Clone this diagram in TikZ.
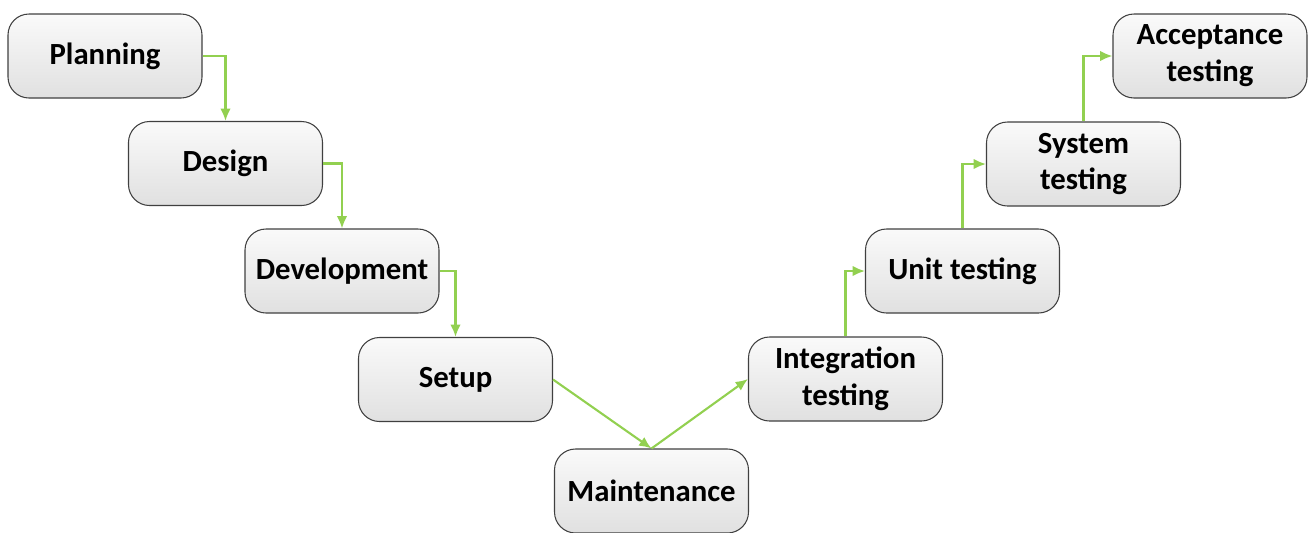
\documentclass[tikz,border=0pt]{standalone}
\usepackage{fontspec}
\setmainfont{Carlito}
\usetikzlibrary{arrows.meta}

\begin{document}
\begin{tikzpicture}[
	stage/.style={draw=black!75,line width=0.6pt,rounded corners=0.42cm,
		top color=gray!4,bottom color=gray!24,minimum width=3.88cm,
		minimum height=1.68cm,align=center,
		font=\fontsize{17.5}{21}\selectfont\bfseries},
	flow/.style={draw={rgb,255:red,146;green,208;blue,80},line width=1.2pt,
		-{Latex[length=7pt,width=6pt]}}]
	\useasboundingbox (0,0) rectangle (26.24,-10.64);
	\node[stage] (plan) at (2.10,-1.12) {Planning};
	\node[stage] (design) at (4.51,-3.27) {Design};
	\node[stage] (dev) at (6.84,-5.42) {Development};
	\node[stage] (setup) at (9.11,-7.59) {Setup};
	\node[stage] (maint) at (13.03,-9.82) {Maintenance};
	\node[stage] (integ) at (16.91,-7.58) {Integration\\testing};
	\node[stage] (unit) at (19.25,-5.42) {Unit testing};
	\node[stage] (sys) at (21.67,-3.28) {System\\testing};
	\node[stage] (accept) at (24.20,-1.12) {Acceptance\\testing};
	\draw[flow] (plan.east) -| (design.north);
	\draw[flow] (design.east) -| (dev.north);
	\draw[flow] (dev.east) -| (setup.north);
	\draw[flow] (setup.east) -- (maint.north);
	\draw[flow] (maint.north) -- (integ.west);
	\draw[flow] (integ.north) |- (unit.west);
	\draw[flow] (unit.north) |- (sys.west);
	\draw[flow] (sys.north) |- (accept.west);
\end{tikzpicture}
\end{document}
